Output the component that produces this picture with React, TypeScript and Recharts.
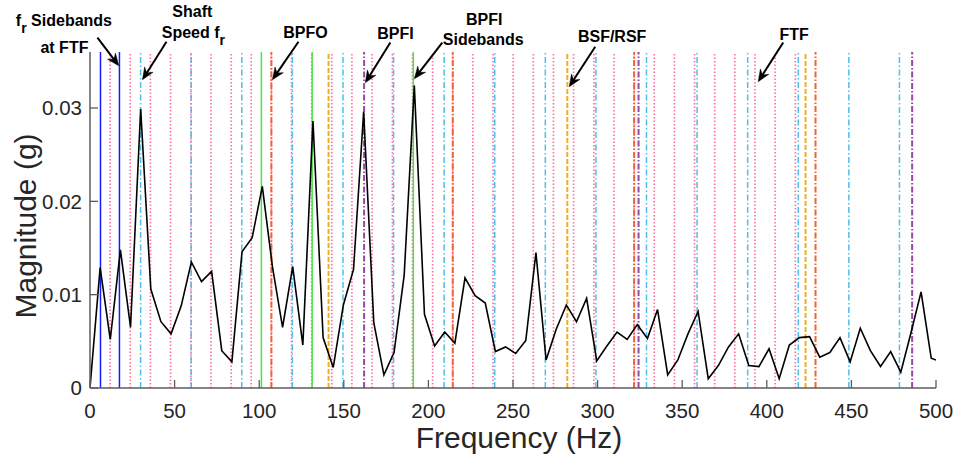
import { ComposedChart, Line, XAxis, YAxis, ReferenceLine, ReferenceDot } from 'recharts';

// spectrum bins (Hz) and envelope magnitude (g)
const freqs = [
  0, 5.99, 11.98, 17.97, 23.96, 29.95, 35.94, 41.93, 47.92, 53.91, 59.9, 65.89, 71.88, 77.87, 83.86,
  89.85, 95.84, 101.83, 107.82, 113.81, 119.8, 125.79, 131.78, 137.77, 143.76, 149.75, 155.74, 161.73,
  167.72, 173.71, 179.7, 185.69, 191.68, 197.67, 203.66, 209.65, 215.64, 221.63, 227.62, 233.61, 239.6,
  245.59, 251.58, 257.57, 263.56, 269.55, 275.54, 281.53, 287.52, 293.51, 299.5, 305.49, 311.48, 317.47,
  323.46, 329.45, 335.44, 341.43, 347.42, 353.41, 359.4, 365.39, 371.38, 377.37, 383.36, 389.35, 395.34,
  401.33, 407.32, 413.31, 419.3, 425.29, 431.28, 437.27, 443.26, 449.25, 455.24, 461.23, 467.22, 473.21,
  479.2, 485.19, 491.18, 497.17, 500,
];
const magnitudes = [
  0, 0.0129, 0.0052, 0.0148, 0.0065, 0.0299, 0.0106, 0.0071, 0.0058, 0.0088, 0.0135, 0.0114, 0.0125,
  0.004, 0.0028, 0.0146, 0.0161, 0.0216, 0.013, 0.0065, 0.013, 0.0046, 0.0286, 0.0054, 0.0022, 0.0089,
  0.0127, 0.0296, 0.007, 0.0014, 0.0038, 0.0121, 0.0324, 0.0079, 0.0045, 0.006, 0.0048, 0.0118, 0.0099,
  0.0091, 0.0039, 0.0044, 0.0037, 0.0051, 0.0145, 0.003, 0.0063, 0.0089, 0.0071, 0.0096, 0.0029, 0.0045,
  0.006, 0.0052, 0.0068, 0.0053, 0.0084, 0.0014, 0.003, 0.0058, 0.0082, 0.001, 0.0024, 0.0044, 0.0058,
  0.0024, 0.0023, 0.0042, 0.001, 0.0046, 0.0054, 0.0055, 0.0033, 0.0038, 0.0054, 0.0028, 0.0064, 0.004,
  0.0023, 0.0039, 0.0017, 0.0059, 0.0103, 0.0032, 0.003,
];

const xTicks = [0, 50, 100, 150, 200, 250, 300, 350, 400, 450, 500];
const yTicks = [0, 0.01, 0.02, 0.03];

// fault frequency marker lines (Hz)
const frSidebands = [6.2, 17.4];
const ftfHarmonics = [
  11.9, 23.8, 35.7, 47.6, 59.6, 71.5, 83.4, 95.3, 107.2, 119.1, 131.0, 142.9, 154.8, 166.7, 178.7,
  190.6, 202.5, 214.4, 226.3, 238.2, 250.1, 262.0, 273.9, 285.8, 297.8, 309.7, 321.6, 333.5, 345.4,
  357.3, 369.2, 381.1, 393.0, 404.9, 416.9,
];
const shaftHarmonics = [
  29.9, 59.8, 89.7, 119.6, 149.5, 179.4, 209.3, 239.2, 269.1, 299.0, 328.9, 358.8, 388.7, 418.6, 448.5, 478.4,
];
const bpfiSidebands = [101.3, 131.3, 191.1];
const bpfoHarmonics = [107.2, 214.4, 321.6, 428.8];
const bpfiHarmonics = [162.0, 324.2, 485.9];
const bsfHarmonics = [141.0, 282.1, 422.9];

const annotationTexts = [
  { text: 'f_r Sidebands', freq: -15.4, mag: 0.03882 },
  { text: 'at FTF', freq: -15.1, mag: 0.03589 },
  { text: 'Shaft', freq: 60.5, mag: 0.03971 },
  { text: 'Speed f_r', freq: 61.1, mag: 0.0375 },
  { text: 'BPFO', freq: 127.3, mag: 0.03754 },
  { text: 'BPFI', freq: 180.5, mag: 0.03743 },
  { text: 'BPFI', freq: 233.0, mag: 0.03893 },
  { text: 'Sidebands', freq: 232.4, mag: 0.03679 },
  { text: 'BSF/RSF', freq: 308.6, mag: 0.03711 },
  { text: 'FTF', freq: 416.1, mag: 0.03732 },
];
const annotationArrows = [
  { from: [4.4, 0.03753], to: [17.0, 0.03453] },
  { from: [45.2, 0.0371], to: [31.0, 0.03303] },
  { from: [123.2, 0.0371], to: [107.8, 0.03303] },
  { from: [177.5, 0.03701], to: [162.7, 0.03271] },
  { from: [208.2, 0.03701], to: [191.7, 0.03314] },
  { from: [298.6, 0.03657], to: [283.2, 0.03228] },
  { from: [409.7, 0.03701], to: [394.9, 0.03282] },
];

const data = freqs.map((f, i) => ({ freq: f, mag: magnitudes[i] }));

const FONT = '"Liberation Sans", Arial, Helvetica, sans-serif';
const AXIS = '#5c5c5c';
const TEXT = '#262626';
const TICK_LEN = 8;
const Y_GAP = 8;
const X_GAP = 15;

const markerGroups = [
  { values: ftfHarmonics, stroke: '#ff6f9f', width: 1.6, dash: '1.5 2' },
  { values: shaftHarmonics, stroke: '#4dbeee', width: 1.5, dash: '6 2.5 1.5 2.5' },
  { values: frSidebands, stroke: '#1a1aff', width: 1.5, dash: undefined },
  { values: bpfiSidebands, stroke: '#44e544', width: 1.5, dash: undefined },
  { values: bsfHarmonics, stroke: '#efb020', width: 2, dash: '5 2' },
  { values: bpfoHarmonics, stroke: '#f26430', width: 2, dash: '6 2 1.5 2' },
  { values: bpfiHarmonics, stroke: '#9249a8', width: 2, dash: '6 2 1.5 2' },
];

const YTick = (props: any) => {
  const { x, y, payload } = props;
  const ax = x + Y_GAP;
  return (
    <g>
      <line x1={ax} x2={ax + TICK_LEN} y1={y} y2={y} stroke={AXIS} strokeWidth={1.3} />
      <text x={x} y={y} dy="0.36em" textAnchor="end" fontSize={20.5} fill={TEXT} fontFamily={FONT}>
        {payload.value === 0 ? '0' : payload.value.toFixed(2)}
      </text>
    </g>
  );
};

const XTick = (props: any) => {
  const { x, y, payload } = props;
  const ay = y - X_GAP;
  return (
    <g>
      <line x1={x} x2={x} y1={ay} y2={ay - TICK_LEN} stroke={AXIS} strokeWidth={1.3} />
      <text x={x} y={y} dy="0.72em" textAnchor="middle" fontSize={20.5} fill={TEXT} fontFamily={FONT}>
        {payload.value}
      </text>
    </g>
  );
};

const Arrow = (props: any) => {
  const { x1, y1, x2, y2 } = props;
  const dx = x2 - x1;
  const dy = y2 - y1;
  const len = Math.sqrt(dx * dx + dy * dy);
  const ux = dx / len;
  const uy = dy / len;
  const head = 12;
  const half = 5;
  const notch = 8;
  const bx = x2 - ux * head;
  const by = y2 - uy * head;
  const nx = x2 - ux * notch;
  const ny = y2 - uy * notch;
  const pts = [
    `${x2},${y2}`,
    `${bx - uy * half},${by + ux * half}`,
    `${nx},${ny}`,
    `${bx + uy * half},${by - ux * half}`,
  ].join(' ');
  return (
    <g>
      <line x1={x1} y1={y1} x2={nx} y2={ny} stroke="#000" strokeWidth={2} />
      <polygon points={pts} fill="#000" stroke="#000" strokeWidth={0.5} />
    </g>
  );
};

const AnnotationText = (text: string) => (props: any) => {
  const { cx, cy } = props;
  const parts = text.split('_');
  return (
    <text x={cx} y={cy} textAnchor="middle" fontSize={16} fontWeight="bold" fill="#000" fontFamily={FONT}>
      {parts.length === 1 ? (
        text
      ) : (
        <>
          <tspan>{parts[0]}</tspan>
          <tspan dy={7} fontSize={14}>{parts[1][0]}</tspan>
          <tspan dy={-7}>{parts[1].slice(1)}</tspan>
        </>
      )}
    </text>
  );
};

export default function App() {
  return (
    <div style={{ position: 'absolute', left: 0, top: 0, width: 956, height: 459 }}>
      <ComposedChart width={956} height={459} data={data} margin={{ top: 52, right: 20, bottom: 21, left: 0 }}>
        <XAxis
          dataKey="freq"
          type="number"
          domain={[0, 500]}
          ticks={xTicks}
          interval={0}
          height={50}
          tickSize={0}
          tickMargin={X_GAP}
          tick={<XTick />}
          axisLine={{ stroke: AXIS, strokeWidth: 1.5 }}
          tickLine={false}
          allowDataOverflow
          label={(p: any) => {
            const vb = p.viewBox;
            return (
              <text x={vb.x + vb.width / 2 + 6} y={vb.y + 60} textAnchor="middle" fontSize={30} fill={TEXT} fontFamily={FONT}>
                Frequency (Hz)
              </text>
            );
          }}
        />
        <YAxis
          type="number"
          domain={[0, 0.036]}
          ticks={yTicks}
          interval={0}
          width={90}
          tickSize={0}
          tickMargin={Y_GAP}
          tick={<YTick />}
          axisLine={{ stroke: AXIS, strokeWidth: 1.5 }}
          tickLine={false}
          allowDataOverflow
          label={(p: any) => {
            const vb = p.viewBox;
            const cx = vb.x + 36;
            const cy = vb.y + vb.height / 2 + 6;
            return (
              <text x={cx} y={cy} transform={`rotate(-90 ${cx} ${cy})`} textAnchor="middle" fontSize={30} fill={TEXT} fontFamily={FONT}>
                Magnitude (g)
              </text>
            );
          }}
        />
        {markerGroups.map((g, gi) =>
          g.values.map((v, i) => (
            <ReferenceLine
              key={`m-${gi}-${i}`}
              x={v}
              stroke={g.stroke}
              strokeWidth={g.width}
              strokeDasharray={g.dash}
              ifOverflow="visible"
            />
          ))
        )}
        <Line
          type="linear"
          dataKey="mag"
          stroke="#000"
          strokeWidth={1.6}
          dot={false}
          activeDot={false}
          isAnimationActive={false}
        />
        {annotationArrows.map((a, i) => (
          <ReferenceLine
            key={`a-${i}`}
            segment={[
              { x: a.from[0], y: a.from[1] },
              { x: a.to[0], y: a.to[1] },
            ]}
            ifOverflow="visible"
            shape={Arrow}
          />
        ))}
        {annotationTexts.map((t, i) => (
          <ReferenceDot
            key={`t-${i}`}
            x={t.freq}
            y={t.mag}
            r={0}
            ifOverflow="visible"
            shape={AnnotationText(t.text)}
          />
        ))}
      </ComposedChart>
    </div>
  );
}
